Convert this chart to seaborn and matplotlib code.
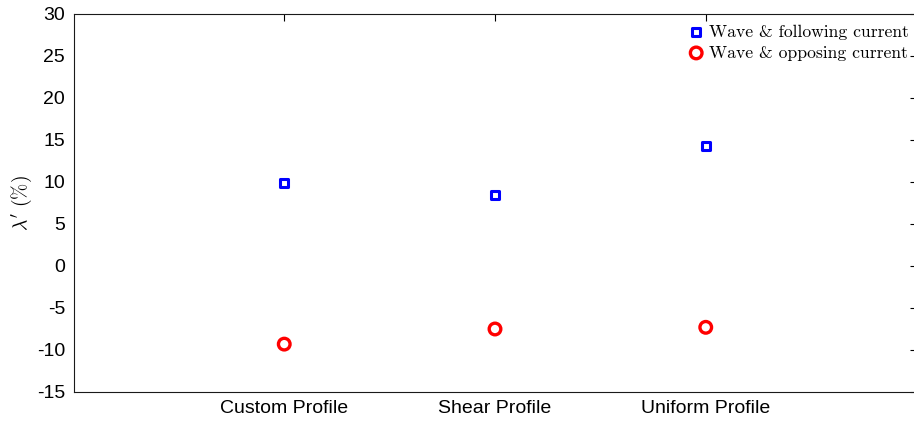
import matplotlib
matplotlib.use("Agg")
import matplotlib.pyplot as plt
import seaborn as sns
import pandas as pd

categories = ["Custom Profile", "Shear Profile", "Uniform Profile"]
following = [9.9, 8.45, 14.3]
opposing = [-9.3, -7.5, -7.3]
series_labels = ["Wave & following current", "Wave & opposing current"]
yticks = [-15, -10, -5, 0, 5, 10, 15, 20, 25, 30]

sns.set_style("white")
plt.rcParams["font.family"] = ["Liberation Sans", "DejaVu Sans"]
plt.rcParams["mathtext.fontset"] = "cm"

df = pd.DataFrame({
    "x": list(range(1, 4)) * 2,
    "y": following + opposing,
    "series": [series_labels[0]] * 3 + [series_labels[1]] * 3,
})

fig = plt.figure(figsize=(9.14, 4.24), dpi=100)
L, R, T, B = 73.5, 916.5, 14, 392
ax = fig.add_axes([L / 914, 1 - B / 424, (R - L) / 914, (B - T) / 424])

sub_f = df[df.series == series_labels[0]]
sub_o = df[df.series == series_labels[1]]
sns.scatterplot(data=sub_f, x="x", y="y", ax=ax, marker="s", s=36,
                facecolors="none", edgecolor="#0000ff", linewidth=2.2,
                label=series_labels[0])
sns.scatterplot(data=sub_o, x="x", y="y", ax=ax, marker="o", s=70,
                facecolors="none", edgecolor="#ff0000", linewidth=2.4,
                label=series_labels[1])

ax.set_xlim(0, 4)
ax.set_ylim(-15, 30)
ax.set_xticks([1, 2, 3])
ax.set_xticklabels(categories)
ax.set_yticks(yticks)
ax.set_yticklabels([str(t) for t in yticks])
ax.set_xlabel("")
ax.set_ylabel(r"$\lambda^{\prime}\ (\%)$", fontsize=14, labelpad=2, color="black")
ax.tick_params(direction="in", length=5, width=0.8, top=True, right=True,
               labelsize=14, colors="black", pad=6)
for s in ax.spines.values():
    s.set_color("#1a1a1a")
    s.set_linewidth(0.8)

leg = ax.legend(loc="upper right", frameon=False,
                prop={"family": "cmr10", "size": 12.7}, labelcolor="black",
                handletextpad=0.1, borderaxespad=0.2, labelspacing=0.3,
                handlelength=1.2, bbox_to_anchor=((919 - L) / (R - L), 1.0))

fig.savefig("out.png", dpi=100)
